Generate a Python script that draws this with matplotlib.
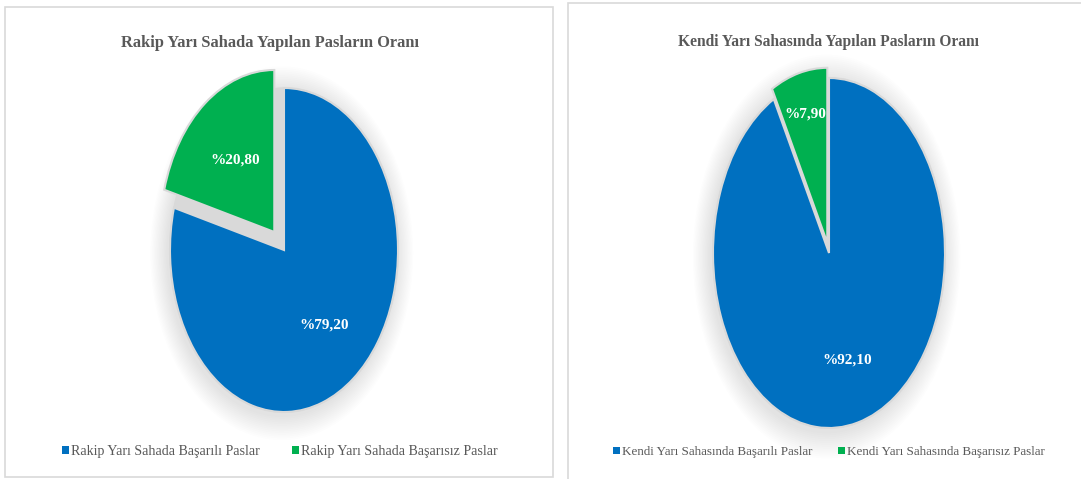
import matplotlib
matplotlib.use("Agg")
import matplotlib.pyplot as plt
from matplotlib.patches import Rectangle, Ellipse
import numpy as np

W, H = 1081, 479
DPI = 100

titles = ["Rakip Yarı Sahada Yapılan Pasların Oranı",
          "Kendi Yarı Sahasında Yapılan Pasların Oranı"]
labels_left = ["Rakip Yarı Sahada Başarılı Paslar", "Rakip Yarı Sahada Başarısız Paslar"]
labels_right = ["Kendi Yarı Sahasında Başarılı Paslar", "Kendi Yarı Sahasında Başarısız Paslar"]
values_left = [79.20, 20.80]
values_right = [92.10, 7.90]
pct_text_left = ["%79,20", "%20,80"]
pct_text_right = ["%92,10", "%7,90"]

BLUE = "#0070C0"
GREEN = "#00B050"
GRAY_TXT = "#595959"
SERIF = ["Liberation Serif", "DejaVu Serif"]

fig = plt.figure(figsize=(W / DPI, H / DPI), dpi=DPI)
fig.patch.set_facecolor("white")

def px_rect(x0, y0, x1, y1):
    return [x0 / W, 1 - y1 / H, (x1 - x0) / W, (y1 - y0) / H]

# panel frames
for (x0, y0, x1, y1) in [(5, 7, 553, 477), (568, 3, 1085, 480)]:
    fig.patches.append(Rectangle((x0 / W, 1 - y1 / H), (x1 - x0) / W, (y1 - y0) / H,
                                 transform=fig.transFigure, fill=False,
                                 edgecolor="#d9d9d9", linewidth=1.2))

def draw_pie(cx, cy, rx, ry, values, pct_texts, explode, dists, title, tx, ty, tsize,
             leg_labels, leg_y, leg_x, lsize, lspace):
    m = 1.3
    ax = fig.add_axes(px_rect(cx - m * rx, cy - m * ry, cx + m * rx, cy + m * ry))
    ax.set_axis_off()
    # soft shadow
    for i in range(14):
        s = 1.0 + 0.011 * (i + 1)
        ax.add_patch(Ellipse((-0.02, -0.02), 2 * s, 2 * s, facecolor="#000000",
                             alpha=0.009, edgecolor="none", zorder=0))
    # gray base (un-exploded)
    ax.pie(values, startangle=90, counterclock=False, colors=["#d9d9d9", "#d9d9d9"],
           wedgeprops=dict(edgecolor="#d9d9d9", linewidth=1))
    wedges, _ = ax.pie(values, startangle=90, counterclock=False, colors=[BLUE, GREEN],
                       explode=explode,
                       wedgeprops=dict(edgecolor="#d9d9d9", linewidth=1.5))
    ax.set_aspect("auto")
    ax.set_xlim(-m, m)
    ax.set_ylim(-m, m)
    for w, t, d in zip(wedges, pct_texts, dists):
        ang = np.deg2rad((w.theta1 + w.theta2) / 2)
        x = w.center[0] + d * np.cos(ang)
        y = w.center[1] + d * np.sin(ang)
        ax.text(x, y, t, ha="center", va="center", color="white",
                fontsize=11, fontweight="bold", family=SERIF)
    fig.text(tx / W, 1 - ty / H, title, ha="center", va="center", color=GRAY_TXT,
             fontsize=tsize, fontweight="bold", family=SERIF)
    leg = fig.legend(wedges, leg_labels, loc="center", bbox_to_anchor=(leg_x / W, 1 - leg_y / H),
                     ncol=2, frameon=False, handlelength=0.5, handleheight=0.5,
                     handletextpad=0.15, columnspacing=lspace,
                     prop=dict(family=SERIF, size=lsize))
    for t in leg.get_texts():
        t.set_color(GRAY_TXT)
    for h in leg.legend_handles:
        h.set_edgecolor("none")

draw_pie(284, 250, 114, 162, values_left, pct_text_left, [0, 0.14], [0.58, 0.56],
         titles[0], 270, 43, 11.8, labels_left, 451, 280, 10.1, 2.3)
draw_pie(829, 253, 116, 175, values_right, pct_text_right, [0, 0.06], [0.63, 0.76],
         titles[1], 828, 42, 11.2, labels_right, 452, 829, 9.4, 2.0)

fig.savefig("out.png", dpi=DPI, facecolor="white")
